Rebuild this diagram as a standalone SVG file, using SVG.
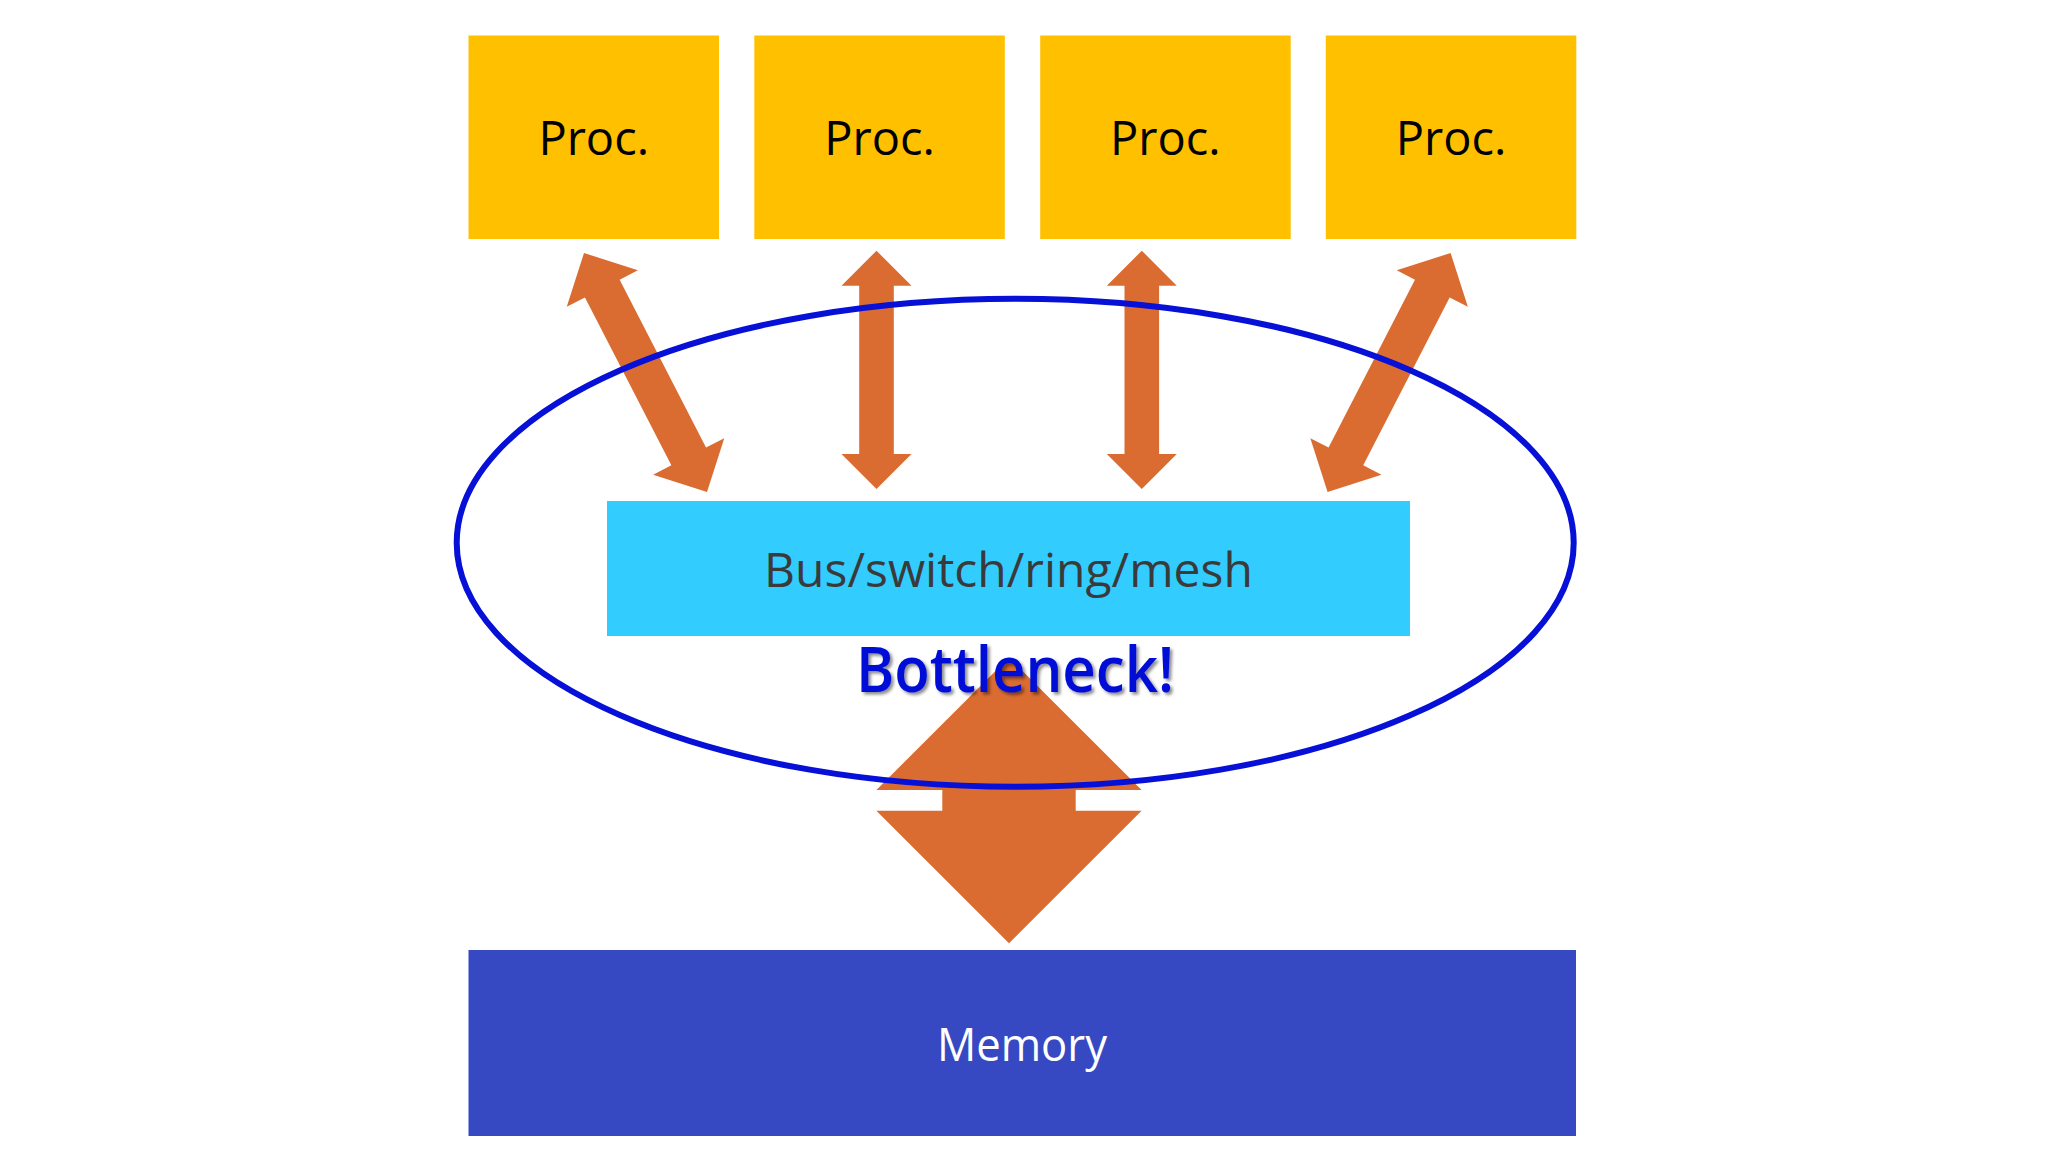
<svg xmlns="http://www.w3.org/2000/svg" width="2046" height="1151" viewBox="0 0 2046 1151">
<defs>
<style>
.proc{fill:#FFC000}
.ptxt{font-family:"Open Sans","Noto Sans",sans-serif;font-size:47px;fill:#000;text-anchor:middle}
.arr{fill:#DA6C31}
.lbl{font-family:"Open Sans","Noto Sans",sans-serif;text-anchor:middle}
</style>
<filter id="sh" x="-10%" y="-20%" width="130%" height="150%">
<feDropShadow dx="2.5" dy="2.5" stdDeviation="1.5" flood-color="#000" flood-opacity="0.45"/>
</filter>
</defs>
<rect width="2046" height="1151" fill="#fff"/>
<g id="proc1"><rect class="proc" x="468.5" y="35.5" width="250.5" height="203.5"/><text class="ptxt" x="593.7" y="155">Proc.</text></g>
<g id="proc2"><rect class="proc" x="754.3" y="35.5" width="250.5" height="203.5"/><text class="ptxt" x="879.5" y="155">Proc.</text></g>
<g id="proc3"><rect class="proc" x="1040.2" y="35.5" width="250.5" height="203.5"/><text class="ptxt" x="1165.4" y="155">Proc.</text></g>
<g id="proc4"><rect class="proc" x="1325.8" y="35.5" width="250.5" height="203.5"/><text class="ptxt" x="1451" y="155">Proc.</text></g>
<g id="bus"><rect x="607" y="501" width="803" height="135" fill="#33CCFF"/><text class="lbl" x="1008.5" y="586.5" font-size="48" fill="#3A3A3A">Bus/switch/ring/mesh</text></g>
<g id="memory"><rect x="468.5" y="950" width="1107.5" height="186" fill="#3649C3"/><text class="lbl" x="1022" y="1060.5" font-size="46" fill="#fff" textLength="170" lengthAdjust="spacingAndGlyphs">Memory</text></g>
<g id="connectors">
<polygon class="arr" points="584,253 637.86,270.26 619.64,279.64 706.04,447.52 724.26,438.14 707,492 653.14,474.74 671.36,465.36 584.96,297.48 566.74,306.86"/>
<polygon class="arr" points="876.5,250.7 911.5,285.7 893.8,285.7 893.8,454 911.5,454 876.5,489 841.5,454 859.2,454 859.2,285.7 841.5,285.7"/>
<polygon class="arr" points="1141.8,250.7 1176.8,285.7 1159.1,285.7 1159.1,454 1176.8,454 1141.8,489 1106.8,454 1124.5,454 1124.5,285.7 1106.8,285.7"/>
<polygon class="arr" points="1450.6,253 1396.74,270.26 1414.96,279.64 1328.56,447.52 1310.34,438.14 1327.6,492 1381.46,474.74 1363.24,465.36 1449.64,297.48 1467.86,306.86"/>
<polygon class="arr" points="1009,657.4 1141.6,790 1075.7,790 1075.7,810.7 1141.6,810.7 1009,943.3 876.4,810.7 942.3,810.7 942.3,790 876.4,790"/>
</g>
<g id="bottleneck">
<ellipse cx="1015.2" cy="542.8" rx="558.5" ry="244" fill="none" stroke="#0610D6" stroke-width="6"/>
<text class="lbl" x="1015" y="691.5" font-size="63" font-weight="600" fill="#0610D6" filter="url(#sh)" textLength="318" lengthAdjust="spacingAndGlyphs">Bottleneck!</text>
</g>
</svg>
